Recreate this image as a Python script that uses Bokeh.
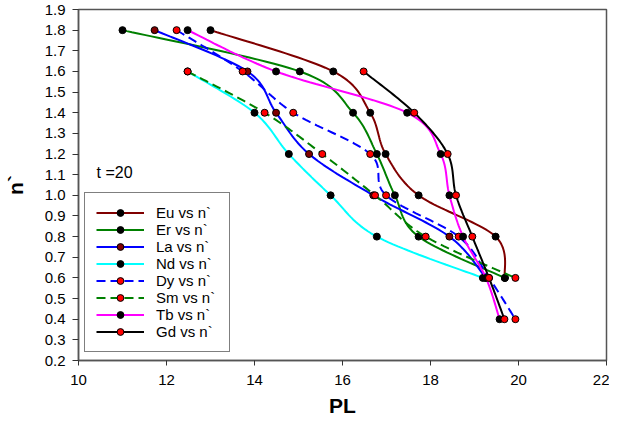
import numpy as np
from bokeh.plotting import figure
from bokeh.models import Legend, LegendItem, Label, FixedTicker, CustomJSTickFormatter, Range1d
from bokeh.embed import file_html
from bokeh.resources import INLINE

# ---- data (PL vs n`) ----
eu_pl = [13.0, 15.79, 16.63, 16.98, 17.73, 19.48, 19.69]
eu_n = [1.8, 1.6, 1.4, 1.2, 1.0, 0.8, 0.6]

er_pl = [11.0, 15.03, 16.24, 16.78, 17.19, 17.73, 19.69]
er_n = [1.8, 1.6, 1.4, 1.2, 1.0, 0.8, 0.6]

la_pl = [11.73, 13.84, 14.49, 15.24, 16.70, 18.43, 19.26]
la_n = [1.8, 1.6, 1.4, 1.2, 1.0, 0.8, 0.6]

nd_pl = [12.48, 14.0, 14.78, 15.73, 16.78, 19.19]
nd_n = [1.6, 1.4, 1.2, 1.0, 0.8, 0.6]

dy_pl = [12.23, 13.73, 14.88, 16.63, 16.99, 18.64, 19.33, 19.93]
dy_n = [1.8, 1.6, 1.4, 1.2, 1.0, 0.8, 0.6, 0.4]

sm_pl = [12.48, 14.23, 15.54, 16.74, 17.89, 19.93]
sm_n = [1.6, 1.4, 1.2, 1.0, 0.8, 0.6]

tb_pl = [12.48, 14.49, 17.47, 18.23, 18.43, 18.74, 19.26, 19.57]
tb_n = [1.8, 1.6, 1.4, 1.2, 1.0, 0.8, 0.6, 0.4]

gd_pl = [16.48, 17.63, 18.39, 18.58, 18.95, 19.33, 19.68]
gd_n = [1.6, 1.4, 1.2, 1.0, 0.8, 0.6, 0.4]

x_ticks = [10, 12, 14, 16, 18, 20, 22]
y_ticks = [0.2, 0.3, 0.4, 0.5, 0.6, 0.7, 0.8, 0.9, 1.0, 1.1, 1.2, 1.3, 1.4, 1.5, 1.6, 1.7, 1.8, 1.9]


def smooth(xs, ys, steps=24):
    """Excel-like smoothed line (cubic Bezier through the points)."""
    P = np.column_stack([xs, ys]).astype(float)
    n = len(P)
    out = [P[0]]
    for i in range(n - 1):
        p0 = P[i - 1] if i > 0 else P[i]
        p1 = P[i]
        p2 = P[i + 1]
        p3 = P[i + 2] if i + 2 < n else P[i + 1]
        c1 = p1 + (p2 - p0) / 6.0
        c2 = p2 - (p3 - p1) / 6.0
        t = np.linspace(0, 1, steps)[1:, None]
        seg = ((1 - t) ** 3) * p1 + 3 * ((1 - t) ** 2) * t * c1 + 3 * (1 - t) * t ** 2 * c2 + t ** 3 * p2
        out.extend(seg)
    out = np.array(out)
    return out[:, 0], out[:, 1]


p = figure(width=609, height=421, output_backend="svg", toolbar_location=None,
           x_range=Range1d(10, 22), y_range=Range1d(0.2, 1.9),
           min_border_left=76, min_border_right=3, min_border_top=9, min_border_bottom=61)
p.background_fill_color = "white"
p.border_fill_color = "white"
p.xgrid.visible = False
p.ygrid.visible = False
p.outline_line_color = "#555555"
p.outline_line_width = 1.5

series = [
    ("Eu vs n`", eu_pl, eu_n, "#800000", "solid", "black"),
    ("Er vs n`", er_pl, er_n, "#008000", "solid", "black"),
    ("La vs n`", la_pl, la_n, "#0000FF", "solid", "#800000"),
    ("Nd vs n`", nd_pl, nd_n, "#00FFFF", "solid", "black"),
    ("Dy vs n`", dy_pl, dy_n, "#0000FF", "9 5", "red"),
    ("Sm vs n`", sm_pl, sm_n, "#008000", "9 5", "red"),
    ("Tb vs n`", tb_pl, tb_n, "#FF00FF", "solid", "black"),
    ("Gd vs n`", gd_pl, gd_n, "#000000", "solid", "red"),
]

items = []
for label, xs, ys, col, dash, mcol in series:
    sx, sy = smooth(xs, ys)
    lr = p.line(sx, sy, line_color=col, line_width=2, line_dash=dash)
    sr = p.scatter(xs, ys, size=7, fill_color=mcol, line_color="black", line_width=1)
    items.append(LegendItem(label=label, renderers=[lr, sr]))

legend = Legend(items=items, location=(6, 8), padding=11, spacing=0, margin=0,
                glyph_width=48, glyph_height=17, label_height=17, label_width=62,
                label_standoff=12, label_text_font_size="15px",
                label_text_font="Liberation Sans", label_text_color="black",
                border_line_color="black", border_line_width=1,
                background_fill_color="white", background_fill_alpha=1)
p.add_layout(legend, "center")

p.add_layout(Label(x=10.41, y=1.11, text="t =20", text_font="Liberation Sans",
                   text_font_size="16px", text_baseline="middle", text_color="black"))

for ax in (p.xaxis[0], p.yaxis[0]):
    ax.axis_line_color = "#555555"
    ax.axis_line_width = 1.5
    ax.major_tick_line_color = "#333333"
    ax.major_tick_in = 0
    ax.minor_tick_line_color = None
    ax.major_label_text_font = "Liberation Sans"
    ax.major_label_text_font_size = "15px"
    ax.major_label_text_color = "black"
    ax.axis_label_text_font = "Liberation Sans"
    ax.axis_label_text_font_style = "bold"
    ax.axis_label_text_font_size = "21px"
    ax.axis_label_text_color = "black"

p.xaxis.ticker = FixedTicker(ticks=x_ticks)
p.yaxis.ticker = FixedTicker(ticks=y_ticks)
p.yaxis.formatter = CustomJSTickFormatter(code="return tick.toFixed(1);")
p.xaxis.major_tick_out = 5
p.yaxis.major_tick_out = 6
p.xaxis.major_label_standoff = 9
p.yaxis.major_label_standoff = 7
p.xaxis.axis_label = "PL"
p.yaxis.axis_label = "n`"
p.xaxis.axis_label_standoff = 6
p.yaxis.axis_label_standoff = 15

open("out.html", "w").write(file_html(p, INLINE))
